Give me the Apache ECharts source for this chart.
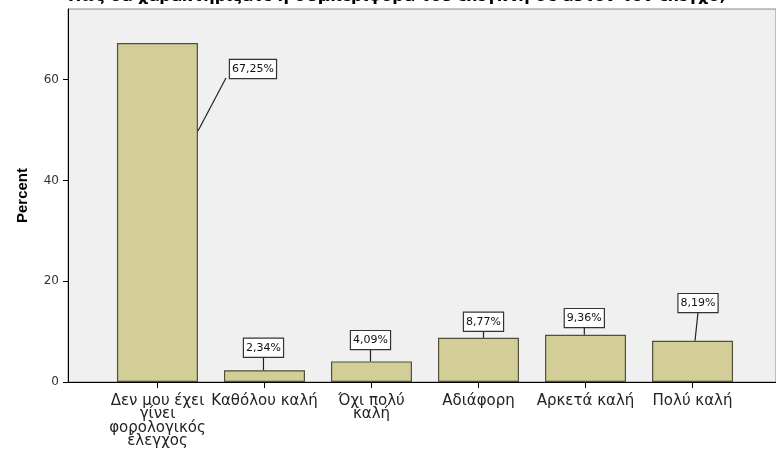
<!DOCTYPE html>
<html>
<head>
<meta charset="utf-8">
<script src="https://cdn.jsdelivr.net/npm/echarts@6/dist/echarts.min.js"></script>
<style>
  html, body { margin: 0; padding: 0; background: #fff; }
  #chart { width: 776px; height: 449px; }
</style>
</head>
<body>
<div id="chart"></div>
<script>
const categories = ['Δεν μου έχει\nγίνει\nφορολογικός\nέλεγχος', 'Καθόλου καλή', 'Όχι πολύ\nκαλή', 'Αδιάφορη', 'Αρκετά καλή', 'Πολύ καλή'];
const percents = [67.25, 2.34, 4.09, 8.77, 9.36, 8.19];
const yTicks = [0, 20, 40, 60];

// callout placement, relative to the top centre of each bar (px)
const boxShift = [[95.5, 26], [-1, -22.5], [-1, -21.3], [5, -16], [-1.2, -16.7], [5.5, -37.6]];
const lineStart = [[40.5, 88], [-1, 0], [-1, 0], [5, 0], [-1.2, 0], [2.5, 0]];
const lineEnd = [[-27, 9], [0, 9], [0, 9], [0, 9], [0, 9], [0, 9]];

const positions = categories.map((c, i) => i);
const fmt = v => v.toFixed(2).replace('.', ',') + '%';

let myChart = echarts.init(document.getElementById('chart'));
myChart.setOption({
  animation: false,
  textStyle: { fontFamily: 'DejaVu Sans' },
  title: {
    text: 'Πώς θα χαρακτηρίζατε η συμπεριφορά του ελεγκτή σε αυτόν τον έλεγχο;',
    left: 63,
    top: -16,
    textStyle: { fontSize: 16, fontWeight: 'bold', color: '#000', fontFamily: 'DejaVu Sans' }
  },
  grid: {
    left: 68, right: 0, top: 9, bottom: 67,
    show: true,
    backgroundColor: '#f0f0f0',
    borderColor: '#8a8a8a',
    borderWidth: 1
  },
  xAxis: {
    type: 'value',
    min: -0.836,
    max: 5.78,
    splitLine: { show: false },
    axisLine: { show: true, onZero: false, lineStyle: { color: '#000' } },
    axisTick: { show: true, customValues: positions, length: 6, lineStyle: { color: '#000' } },
    axisLabel: {
      customValues: positions,
      formatter: v => categories[Math.round(v)],
      color: '#222',
      fontSize: 15,
      lineHeight: 13.5,
      margin: 12
    }
  },
  yAxis: {
    type: 'value',
    min: 0,
    max: 74,
    name: 'Percent',
    nameLocation: 'middle',
    nameGap: 38,
    nameRotate: 90,
    nameTextStyle: { fontFamily: 'Liberation Sans', fontWeight: 'bold', fontSize: 15, color: '#000' },
    splitLine: { show: false },
    axisLine: { show: true, onZero: false, lineStyle: { color: '#000' } },
    axisTick: { show: true, customValues: yTicks, length: 5, lineStyle: { color: '#000' } },
    axisLabel: { customValues: yTicks, color: '#333', fontSize: 12, margin: 9 }
  },
  series: [{
    type: 'bar',
    barWidth: 81,
    data: percents.map((v, i) => [i, v]),
    itemStyle: { color: '#d3ce98', borderColor: '#4f4f3a', borderWidth: 1.2 }
  }, {
    type: 'custom',
    z: 5,
    data: percents.map((v, i) => [i, v]),
    renderItem: (params, api) => {
      const i = params.dataIndex;
      const top = api.coord([api.value(0), api.value(1)]);
      const cx = top[0] + boxShift[i][0];
      const cy = top[1] + boxShift[i][1];
      return {
        type: 'group',
        children: [{
          type: 'line',
          shape: {
            x1: top[0] + lineStart[i][0], y1: top[1] + lineStart[i][1],
            x2: cx + lineEnd[i][0], y2: cy + lineEnd[i][1]
          },
          style: { stroke: '#222', lineWidth: 1.2 }
        }, {
          type: 'text',
          x: cx,
          y: cy,
          style: {
            text: fmt(api.value(1)),
            align: 'center',
            verticalAlign: 'middle',
            fill: '#111',
            font: '11px DejaVu Sans',
            backgroundColor: '#fff',
            borderColor: '#333',
            borderWidth: 1.2,
            padding: [4, 2, 3, 2]
          }
        }]
      };
    }
  }]
});
</script>
</body>
</html>
